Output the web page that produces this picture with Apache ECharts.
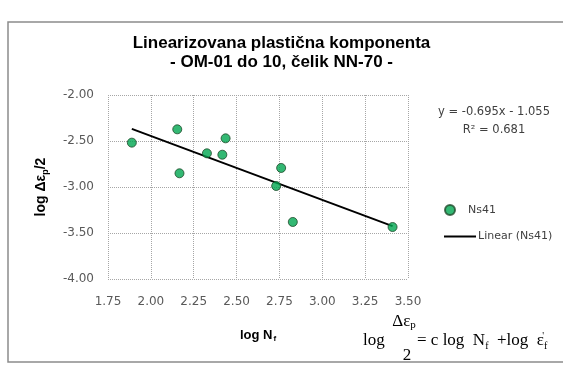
<!DOCTYPE html>
<html>
<head>
<meta charset="utf-8">
<script src="https://cdn.jsdelivr.net/npm/echarts@6/dist/echarts.min.js"></script>
<style>
  html, body { margin: 0; padding: 0; background: #ffffff; }
  #chart { width: 563px; height: 369px; }
</style>
</head>
<body>
<div id="chart"></div>
<script>
// Measured points: log Nf vs log(Δεp/2)
var logNf = [1.889, 2.154, 2.167, 2.327, 2.417, 2.436, 2.731, 2.760, 2.828, 3.410];
var logEp = [-2.518, -2.373, -2.851, -2.634, -2.649, -2.471, -2.989, -2.793, -3.380, -3.435];

// Linear fit coefficients (as printed in the equation label)
var fitSlope = -0.695;
var fitIntercept = -1.055;
var fitR2 = 0.681;

// Axis ticks
var xTicks = { min: 1.75, max: 3.50, step: 0.25 };
var yTicks = { min: -4.00, max: -2.00, step: 0.50 };

var scatterData = logNf.map(function (x, i) { return [x, logEp[i]]; });
var xLo = Math.min.apply(null, logNf);
var xHi = Math.max.apply(null, logNf);
var fitData = [xLo, xHi].map(function (x) { return [x, fitSlope * x + fitIntercept]; });

function fmt3(v) { return (v < 0 ? '- ' : '+ ') + Math.abs(v).toFixed(3); }
var eqText = 'y = ' + fitSlope.toFixed(3) + 'x ' + fmt3(fitIntercept) + '\nR² = ' + fitR2.toFixed(3);

var tickFont = { fontFamily: 'DejaVu Sans', fontSize: 12, color: '#595959' };
var gridLine = { show: true, lineStyle: { type: 'dotted', color: '#a6a6a6', width: 1 } };
var legendText = { fontFamily: 'DejaVu Sans', fontSize: 11, color: '#404040', padding: [0, 0, 0, -3] };
var serif = 'Liberation Serif';

var chart = echarts.init(document.getElementById('chart'), null, { renderer: 'canvas' });
chart.setOption({
  backgroundColor: '#ffffff',
  animation: false,
  title: {
    text: 'Linearizovana plastična komponenta\n- OM-01 do 10, čelik NN-70 -',
    left: 'center',
    top: 29,
    padding: [5, 0, 5, 13],
    textStyle: { fontFamily: 'Liberation Sans', fontWeight: 'bold', fontSize: 17, lineHeight: 19, color: '#000000' }
  },
  grid: { left: 108, top: 95, right: 155, bottom: 90 },
  xAxis: {
    type: 'value',
    min: xTicks.min, max: xTicks.max, interval: xTicks.step,
    axisLine: { show: false },
    axisTick: { show: false },
    splitLine: gridLine,
    axisLabel: Object.assign({ margin: 17, formatter: function (v) { return v.toFixed(2); } }, tickFont),
    name: '{a|log N}{s|f}',
    nameLocation: 'middle',
    nameGap: 48,
    nameTextStyle: {
      rich: {
        a: { fontFamily: 'Liberation Sans', fontWeight: 'bold', fontSize: 13, color: '#000', lineHeight: 16 },
        s: { fontFamily: 'Liberation Sans', fontWeight: 'bold', fontSize: 8, color: '#000', lineHeight: 16, verticalAlign: 'bottom', padding: [6, 0, 0, 1] }
      }
    }
  },
  yAxis: {
    type: 'value',
    min: yTicks.min, max: yTicks.max, interval: yTicks.step,
    axisLine: { show: false },
    axisTick: { show: false },
    splitLine: gridLine,
    axisLabel: Object.assign({ margin: 14, formatter: function (v) { return v.toFixed(2); } }, tickFont),
    name: '{a|log Δε}{s|p}{a|/2}',
    nameLocation: 'middle',
    nameRotate: 90,
    nameGap: 58,
    nameTextStyle: {
      rich: {
        a: { fontFamily: 'Liberation Sans', fontWeight: 'bold', fontSize: 14, color: '#000', lineHeight: 18 },
        s: { fontFamily: 'Liberation Sans', fontWeight: 'bold', fontSize: 9, color: '#000', lineHeight: 18, verticalAlign: 'bottom', padding: [7, 0, 0, 0] }
      }
    }
  },
  legend: [
    {
      left: 439, top: 199,
      itemWidth: 32, itemHeight: 10,
      textStyle: legendText,
      data: [{ name: 'Ns41', icon: 'circle' }]
    },
    {
      left: 439, top: 226,
      itemWidth: 32, itemHeight: 2,
      textStyle: legendText,
      data: [{ name: 'Linear (Ns41)', icon: 'rect', itemStyle: { color: '#000000' } }]
    }
  ],
  series: [
    {
      name: 'Linear (Ns41)',
      type: 'line',
      data: fitData,
      symbol: 'none',
      lineStyle: { color: '#000000', width: 2 },
      itemStyle: { color: '#000000' },
      z: 2
    },
    {
      name: 'Ns41',
      type: 'scatter',
      data: scatterData,
      symbol: 'circle',
      symbolSize: 9,
      itemStyle: { color: '#00a650', borderColor: '#1f4a2a', borderWidth: 1 },
      z: 3
    }
  ],
  graphic: [
    // chart frame
    { type: 'rect', shape: { x: 8, y: 22, width: 600, height: 340 },
      style: { fill: null, stroke: '#8c8c8c', lineWidth: 1.5 }, z: -10 },
    // trendline equation
    { type: 'text', x: 494, y: 103,
      style: { text: eqText, fontFamily: 'DejaVu Sans', fontSize: 11.5, lineHeight: 18,
               fill: '#404040', align: 'center', verticalAlign: 'top' } },
    // formula: log Δεp/2 = c log Nf + log εf'
    { type: 'text', x: 363, y: 341,
      style: { text: 'log', fontFamily: serif, fontSize: 17, fill: '#000', verticalAlign: 'middle' } },
    { type: 'text', x: 404, y: 322,
      style: { text: '{a|Δε}{s|p}',
               rich: { a: { fontFamily: serif, fontSize: 17, color: '#000', lineHeight: 18 },
                       s: { fontFamily: serif, fontSize: 11, color: '#000', lineHeight: 18, verticalAlign: 'bottom', padding: [6, 0, 0, 0] } },
               align: 'center', verticalAlign: 'middle' } },
    { type: 'text', x: 407, y: 356,
      style: { text: '2', fontFamily: serif, fontSize: 17, fill: '#000', align: 'center', verticalAlign: 'middle' } },
    { type: 'text', x: 417, y: 341,
      style: { text: '{a|= c log  N}{s|f}{a|  +log  ε}{s|f}{u|\'}',
               rich: { a: { fontFamily: serif, fontSize: 17, color: '#000', lineHeight: 20 },
                       s: { fontFamily: serif, fontSize: 10, color: '#000', lineHeight: 20, verticalAlign: 'bottom', padding: [8, 0, 0, 0] },
                       u: { fontFamily: serif, fontSize: 10, color: '#000', lineHeight: 20, verticalAlign: 'top', padding: [0, 0, 8, -5] } },
               verticalAlign: 'middle' } }
  ]
});
</script>
</body>
</html>
